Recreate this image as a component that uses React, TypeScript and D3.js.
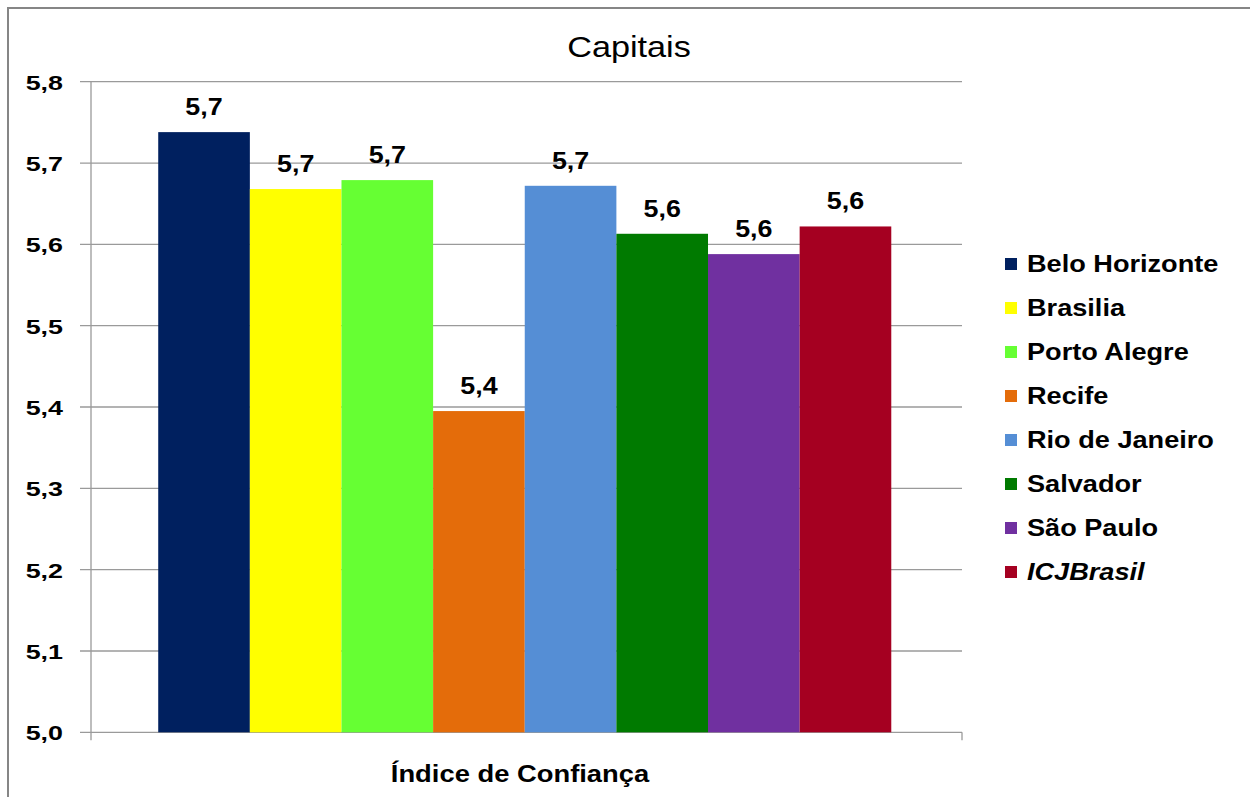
import * as d3 from "d3"

// data
const cities = [
  "Belo Horizonte",
  "Brasilia",
  "Porto Alegre",
  "Recife",
  "Rio de Janeiro",
  "Salvador",
  "São Paulo",
  "ICJBrasil",
]
const values = [5.738, 5.668, 5.679, 5.395, 5.672, 5.613, 5.588, 5.622]
const colors = ["#00205F", "#FFFF00", "#66FF33", "#E46C0A", "#558ED5", "#007A00", "#7030A0", "#A50021"]
const yTicks = [5.0, 5.1, 5.2, 5.3, 5.4, 5.5, 5.6, 5.7, 5.8]

const W = 1250
const H = 797
const font = "'Liberation Sans', Arial, sans-serif"
const fmt = (v: number) => v.toFixed(1).replace(".", ",")

export default function App() {
  const plot = { left: 91, right: 962, top: 81.7, bottom: 732.3 }

  const y = d3.scaleLinear().domain([5.0, 5.8]).range([plot.bottom, plot.top])
  const x = d3
    .scaleBand<string>()
    .domain(cities)
    .range([89.5, 960])
    .paddingInner(0)
    .paddingOuter(0.75)

  return (
    <svg
      width={W}
      height={H}
      style={{ position: "absolute", left: 0, top: 0, background: "#fff" }}
      fontFamily={font}
    >
      {/* outer frame */}
      <rect x={8} y={8} width={W} height={H + 10} fill="#fff" stroke="#868686" strokeWidth={2} />

      {/* title */}
      <text transform={`translate(629,57) scale(1.18,1)`} textAnchor="middle" fontSize={29} fill="#000">
        Capitais
      </text>

      {/* gridlines + y ticks */}
      {yTicks.map((t) => (
        <g key={t}>
          <line x1={80} x2={plot.right} y1={y(t)} y2={y(t)} stroke="#9a9a9a" strokeWidth={1.3} />
          <text
            transform={`translate(63,${y(t) + 8}) scale(1.28,1)`}
            textAnchor="end"
            fontSize={21}
            fontWeight="bold"
            fill="#000"
          >
            {fmt(t)}
          </text>
        </g>
      ))}

      {/* axes */}
      <line x1={plot.left} x2={plot.left} y1={plot.top} y2={plot.bottom + 8} stroke="#9a9a9a" strokeWidth={1.3} />
      <line x1={plot.right} x2={plot.right} y1={plot.bottom} y2={plot.bottom + 8} stroke="#9a9a9a" strokeWidth={1.3} />

      {/* bars */}
      {cities.map((c, i) => (
        <rect
          key={c}
          x={x(c)}
          y={y(values[i])}
          width={x.bandwidth()}
          height={plot.bottom - y(values[i])}
          fill={colors[i]}
        />
      ))}

      {/* data labels */}
      {cities.map((c, i) => (
        <text
          key={c + "-lbl"}
          transform={`translate(${(x(c) ?? 0) + x.bandwidth() / 2},${y(values[i]) - 17}) scale(1.12,1)`}
          textAnchor="middle"
          fontSize={24}
          fontWeight="bold"
          fill="#000"
        >
          {fmt(values[i])}
        </text>
      ))}

      {/* x axis title */}
      <text transform={`translate(520,782) scale(1.19,1)`} textAnchor="middle" fontSize={23} fontWeight="bold" fill="#000">
        Índice de Confiança
      </text>

      {/* legend */}
      {cities.map((c, i) => (
        <g key={c + "-leg"} transform={`translate(1005,${258 + i * 44})`}>
          <rect width={12} height={12} fill={colors[i]} />
          <text
            transform={`translate(22,13.7) scale(1.18,1)`}
            fontSize={23}
            fontWeight="bold"
            fontStyle={c === "ICJBrasil" ? "italic" : "normal"}
            fill="#000"
          >
            {c}
          </text>
        </g>
      ))}
    </svg>
  )
}
